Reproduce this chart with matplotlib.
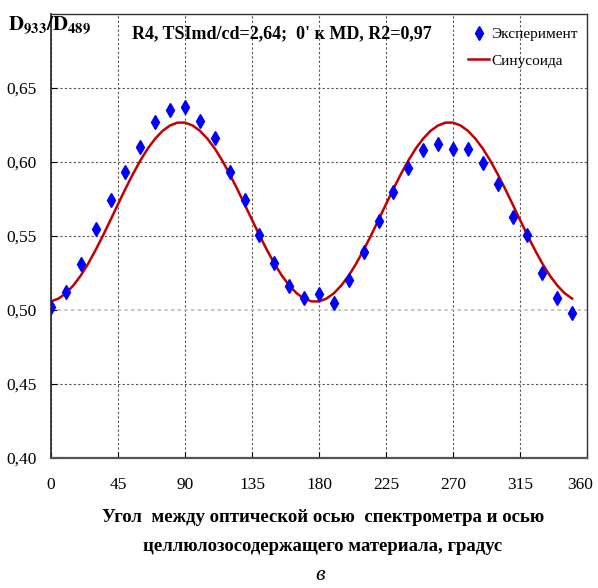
import matplotlib
matplotlib.use('Agg')
import matplotlib.pyplot as plt
from matplotlib.transforms import ScaledTranslation

# angles of the measured points, degrees
angles = [0, 10, 20, 30, 40, 50, 60, 70, 80, 90, 100, 110, 120, 130, 140, 150, 160, 170,
          180, 190, 200, 210, 220, 230, 240, 250, 260, 270, 280, 290, 300, 310, 320, 330, 340, 350]

# measured D933/D489
experiment = [0.502, 0.512, 0.531, 0.555, 0.574, 0.593, 0.610, 0.627, 0.635, 0.637, 0.628, 0.616,
              0.593, 0.574, 0.551, 0.532, 0.516, 0.508, 0.511, 0.505, 0.520, 0.539, 0.560, 0.580,
              0.596, 0.608, 0.612, 0.609, 0.609, 0.599, 0.585, 0.563, 0.551, 0.525, 0.508, 0.498]

# fitted curve, every 5 degrees (0..350)
curve_angles = list(range(0, 355, 5))
sinusoid = [0.5058, 0.5077, 0.5113, 0.5166, 0.5233, 0.5314, 0.5406, 0.5505, 0.5609, 0.5715,
            0.5819, 0.5918, 0.6010, 0.6091, 0.6158, 0.6211, 0.6247, 0.6266, 0.6266, 0.6247,
            0.6211, 0.6158, 0.6091, 0.6010, 0.5918, 0.5819, 0.5715, 0.5609, 0.5505, 0.5406,
            0.5314, 0.5233, 0.5166, 0.5113, 0.5077, 0.5058,
            0.5058, 0.5077, 0.5113, 0.5166, 0.5233, 0.5314, 0.5406, 0.5505, 0.5609, 0.5715,
            0.5819, 0.5918, 0.6010, 0.6091, 0.6158, 0.6211, 0.6247, 0.6266, 0.6266, 0.6247,
            0.6211, 0.6158, 0.6091, 0.6010, 0.5918, 0.5819, 0.5715, 0.5609, 0.5505, 0.5406,
            0.5314, 0.5233, 0.5166, 0.5113, 0.5077]

x_ticks = [0, 45, 90, 135, 180, 225, 270, 315, 360]
x_labels = ['0', '45', '90', '135', '180', '225', '270', '315', '360']
y_ticks = [0.40, 0.45, 0.50, 0.55, 0.60, 0.65]
y_labels = ['0,40', '0,45', '0,50', '0,55', '0,60', '0,65']

plt.rcParams['font.family'] = ['Liberation Serif', 'DejaVu Serif']
plt.rcParams['mathtext.fontset'] = 'stix'

fig = plt.figure(figsize=(5.98, 5.88), dpi=100)
ax = fig.add_axes([0.0853, 0.2211, 0.8963, 0.7551])

ax.plot(curve_angles, sinusoid, color='#C00000', linewidth=1.8, label='Синусоида', zorder=2)
ax.plot(angles, experiment, linestyle='none', marker='d', markersize=7,
        color='#0000FF', label='Эксперимент', zorder=3)

ax.set_xlim(0, 360)
ax.set_ylim(0.40, 0.70)
ax.set_xticks(x_ticks)
ax.set_xticklabels(x_labels)
ax.set_yticks(y_ticks)
ax.set_yticklabels(y_labels)
ax.tick_params(direction='in', length=4, labelsize=12.5)
ax.tick_params(axis='x', pad=14)
ax.tick_params(axis='y', pad=10)

# keep "360" inside the picture
last = ax.get_xticklabels()[-1]
last.set_transform(last.get_transform() + ScaledTranslation(-5 / 72, 0, fig.dpi_scale_trans))

ax.grid(True, linestyle=(0, (2, 2)), color='#555555', linewidth=0.8)
ax.get_ygridlines()[2].set_color('#bbbbbb')
ax.get_ygridlines()[2].set_linewidth(1.2)

for side in ['top', 'right']:
    ax.spines[side].set_color('#333333')
    ax.spines[side].set_linewidth(1.0)
ax.spines['left'].set_color('#222222')
ax.spines['left'].set_linewidth(1.2)
ax.spines['bottom'].set_color('#555555')
ax.spines['bottom'].set_linewidth(1.6)

ax.text(0.43, 0.955, "R4, TSImd/cd=2,64;  0' к MD, R2=0,97", transform=ax.transAxes,
        ha='center', va='center', fontsize=13, fontweight='bold')

handles, labels = ax.get_legend_handles_labels()
ax.legend(handles[::-1], labels[::-1], loc='upper left', bbox_to_anchor=(0.778, 0.97),
          frameon=False, fontsize=11, handlelength=1.4, handletextpad=0.1,
          labelspacing=0.85, borderaxespad=0, borderpad=0)

fig.text(0.013, 0.957, r'$\mathbf{D_{933}/D_{489}}$', fontsize=15, ha='left', va='center')

fig.text(0.54, 0.12, 'Угол  между оптической осью  спектрометра и осью', ha='center',
         va='center', fontsize=13.5, fontweight='bold')
fig.text(0.54, 0.07, 'целлюлозосодержащего материала, градус', ha='center',
         va='center', fontsize=13.5, fontweight='bold')
fig.text(0.535, 0.022, 'в', ha='center', va='center', fontsize=16, style='italic')

fig.savefig('out.png', dpi=100)
